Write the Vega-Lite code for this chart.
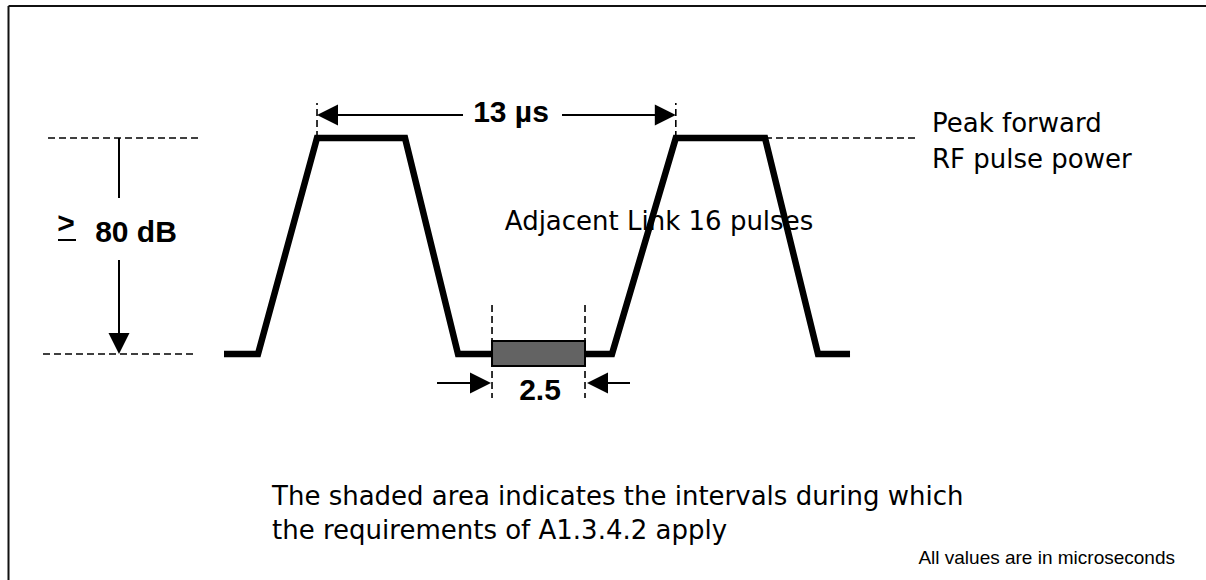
{
  "$schema": "https://vega.github.io/schema/vega-lite/v6.json",
  "width": 1206,
  "height": 580,
  "autosize": {"type": "none"},
  "padding": 0,
  "background": "white",
  "config": {"view": {"stroke": null}},
  "datasets": {
    "wave": [
      {"t": -3.370, "db": 0, "o": 1},
      {"t": -2.138, "db": 0, "o": 2},
      {"t": 0, "db": 80, "o": 3},
      {"t": 3.188, "db": 80, "o": 4},
      {"t": 5.109, "db": 0, "o": 5},
      {"t": 10.688, "db": 0, "o": 6},
      {"t": 13.0, "db": 80, "o": 7},
      {"t": 16.232, "db": 80, "o": 8},
      {"t": 18.152, "db": 0, "o": 9},
      {"t": 19.312, "db": 0, "o": 10}
    ],
    "dashed": [
      {"t": -9.746, "db": 80, "t2": -4.239, "db2": 80},
      {"t": -9.928, "db": 0, "t2": -4.493, "db2": 0},
      {"t": 16.232, "db": 80, "t2": 21.739, "db2": 80},
      {"t": 0, "db": 80, "t2": 0, "db2": 93},
      {"t": 13, "db": 80, "t2": 13, "db2": 93},
      {"t": 6.341, "db": 18.148, "t2": 6.341, "db2": -16.296},
      {"t": 9.710, "db": 18.148, "t2": 9.710, "db2": -16.296}
    ],
    "solid": [
      {"t": 0.761, "db": 88.519, "t2": 5.290, "db2": 88.519},
      {"t": 8.877, "db": 88.519, "t2": 12.246, "db2": 88.519},
      {"t": 4.348, "db": -10.741, "t2": 5.616, "db2": -10.741},
      {"t": 10.435, "db": -10.741, "t2": 11.341, "db2": -10.741},
      {"t": -7.174, "db": 80, "t2": -7.174, "db2": 57.778},
      {"t": -7.174, "db": 34.815, "t2": -7.174, "db2": 7.407},
      {"t": -9.384, "db": 42.222, "t2": -8.732, "db2": 42.222}
    ],
    "border": [
      {"t": -11.178, "db": -83.704, "t2": -11.178, "db2": 128.889},
      {"t": -11.178, "db": 128.889, "t2": 32.21, "db2": 128.889}
    ],
    "box": [
      {"t": 6.341, "db": 4.815, "t2": 9.710, "db2": -4.444}
    ],
    "heads": [
      {"t": 0, "db": 88.519, "dir": "left"},
      {"t": 13, "db": 88.519, "dir": "right"},
      {"t": 6.304, "db": -10.741, "dir": "right"},
      {"t": 9.783, "db": -10.741, "dir": "left"},
      {"t": -7.174, "db": 0, "dir": "down"}
    ],
    "bold": [
      {"t": 7.029, "db": 85.926, "label": "13 µs"},
      {"t": -6.558, "db": 41.481, "label": "80 dB"},
      {"t": -9.094, "db": 44.815, "label": ">"},
      {"t": 8.080, "db": -17.037, "label": "2.5"}
    ],
    "regLeft": [
      {"t": 22.283, "db": 82.222, "label": "Peak forward"},
      {"t": 22.283, "db": 68.889, "label": "RF pulse power"},
      {"t": -1.630, "db": -55.926, "label": "The shaded area indicates the intervals during which"},
      {"t": -1.630, "db": -68.519, "label": "the requirements of A1.3.4.2 apply"}
    ],
    "regCenter": [
      {"t": 12.391, "db": 45.926, "label": "Adjacent Link 16 pulses"}
    ],
    "note": [
      {"t": 31.087, "db": -77.778, "label": "All values are in microseconds"}
    ]
  },
  "encoding": {
    "x": {"field": "t", "type": "quantitative", "scale": {"domain": [-11.486, 32.21], "nice": false, "zero": false}, "axis": null},
    "y": {"field": "db", "type": "quantitative", "scale": {"domain": [-83.704, 131.111], "nice": false, "zero": false}, "axis": null}
  },
  "layer": [
    {
      "data": {"name": "border"},
      "mark": {"type": "rule", "color": "#111111", "strokeWidth": 2},
      "encoding": {"x2": {"field": "t2"}, "y2": {"field": "db2"}}
    },
    {
      "data": {"name": "regCenter"},
      "mark": {"type": "text", "font": "DejaVu Sans", "fontSize": 26, "align": "center", "baseline": "alphabetic", "color": "#000000"},
      "encoding": {"text": {"field": "label"}}
    },
    {
      "data": {"name": "regLeft"},
      "mark": {"type": "text", "font": "DejaVu Sans", "fontSize": 26, "align": "left", "baseline": "alphabetic", "color": "#000000"},
      "encoding": {"text": {"field": "label"}}
    },
    {
      "data": {"name": "note"},
      "mark": {"type": "text", "font": "Liberation Sans", "fontSize": 19, "align": "right", "baseline": "alphabetic", "color": "#000000"},
      "encoding": {"text": {"field": "label"}}
    },
    {
      "data": {"name": "bold"},
      "mark": {"type": "text", "font": "Liberation Sans", "fontWeight": "bold", "fontSize": 30, "align": "center", "baseline": "alphabetic", "color": "#000000"},
      "encoding": {"text": {"field": "label"}}
    },
    {
      "data": {"name": "dashed"},
      "mark": {"type": "rule", "color": "#000000", "strokeWidth": 1.6, "strokeDash": [7, 4]},
      "encoding": {"x2": {"field": "t2"}, "y2": {"field": "db2"}}
    },
    {
      "data": {"name": "wave"},
      "mark": {"type": "line", "color": "#000000", "strokeWidth": 6.5, "strokeJoin": "miter", "strokeCap": "butt"},
      "encoding": {"order": {"field": "o", "type": "quantitative"}}
    },
    {
      "data": {"name": "box"},
      "mark": {"type": "rect", "fill": "#636363", "stroke": "#000000", "strokeWidth": 2},
      "encoding": {"x2": {"field": "t2"}, "y2": {"field": "db2"}}
    },
    {
      "data": {"name": "solid"},
      "mark": {"type": "rule", "color": "#000000", "strokeWidth": 2},
      "encoding": {"x2": {"field": "t2"}, "y2": {"field": "db2"}}
    },
    {
      "data": {"name": "heads"},
      "mark": {"type": "point", "filled": true, "color": "#000000", "opacity": 1, "strokeWidth": 0, "size": 1764},
      "encoding": {
        "shape": {"field": "dir", "type": "nominal", "legend": null, "scale": {"domain": ["right", "left", "down"], "range": ["M0,0L-1,-0.5L-1,0.5Z", "M0,0L1,-0.5L1,0.5Z", "M0,0L-0.5,-1L0.5,-1Z"]}}
      }
    }
  ]
}
